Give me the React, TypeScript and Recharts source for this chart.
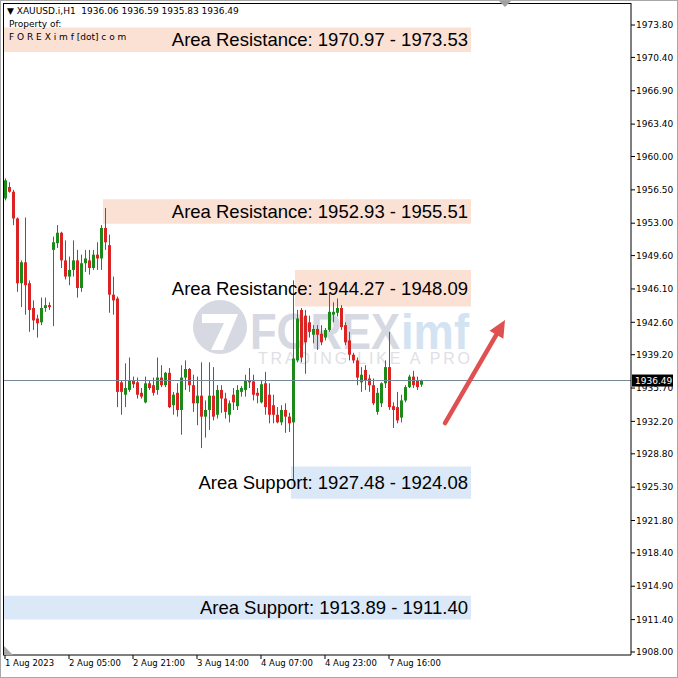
import {
  ComposedChart,
  Bar,
  XAxis,
  YAxis,
  ReferenceArea,
  ReferenceLine,
} from "recharts";

// XAUUSD.i H1 candles (oldest first)
const opens = [
  1955.6, 1956.8, 1956.3, 1953.5, 1946.7, 1948.9, 1946.7, 1944.1, 1943.0, 1942.6,
  1944.1, 1944.4, 1950.2, 1950.9, 1952.0, 1949.1, 1947.4, 1948.1, 1949.1, 1946.2,
  1948.8, 1949.1, 1948.3, 1949.7, 1949.3, 1952.5, 1950.7, 1945.5, 1945.1, 1936.3,
  1935.0, 1935.5, 1936.5, 1936.3, 1935.2, 1934.2, 1936.2, 1936.0, 1935.5, 1936.8,
  1936.0, 1937.3, 1933.9, 1935.2, 1933.4, 1936.8, 1937.7, 1936.0, 1934.1, 1934.9,
  1932.7, 1933.4, 1934.9, 1932.9, 1935.5, 1934.6, 1932.9, 1935.0, 1933.8, 1935.3,
  1935.5, 1936.5, 1936.4, 1935.2, 1934.2, 1936.2, 1935.0, 1933.9, 1932.9, 1932.1,
  1933.4, 1932.7, 1932.1, 1938.6, 1943.9, 1943.3, 1942.6, 1941.3, 1941.9, 1941.4,
  1941.0, 1941.8, 1943.4, 1943.6, 1944.1, 1942.3, 1940.7, 1939.2, 1938.6, 1936.3,
  1937.6, 1936.7, 1936.0, 1933.2, 1934.1, 1936.2, 1937.9, 1933.8, 1933.7, 1932.6,
  1934.4, 1935.8, 1936.9, 1936.5, 1936.06,
];
const highs = [
  1957.7, 1957.3, 1956.5, 1953.6, 1949.1, 1953.6, 1947.0, 1944.9, 1943.4, 1945.2,
  1945.2, 1944.7, 1951.6, 1952.8, 1952.1, 1951.2, 1949.5, 1951.2, 1950.2, 1949.7,
  1950.2, 1950.2, 1950.2, 1951.0, 1952.8, 1954.6, 1951.8, 1947.4, 1945.3, 1936.5,
  1938.3, 1938.9, 1936.9, 1936.8, 1935.7, 1936.9, 1936.5, 1936.8, 1938.9, 1938.1,
  1937.4, 1937.8, 1935.3, 1936.2, 1938.1, 1938.6, 1937.8, 1937.1, 1936.9, 1938.4,
  1934.4, 1938.4, 1937.9, 1936.0, 1936.0, 1935.2, 1934.4, 1935.7, 1936.0, 1935.9,
  1937.1, 1937.8, 1937.1, 1935.7, 1936.5, 1937.4, 1936.2, 1935.0, 1933.7, 1933.9,
  1934.1, 1933.1, 1947.0, 1943.9, 1944.1, 1943.9, 1943.3, 1942.3, 1942.3, 1942.3,
  1942.0, 1945.7, 1944.7, 1945.1, 1944.4, 1942.6, 1941.6, 1939.4, 1938.9, 1937.9,
  1938.1, 1937.1, 1936.7, 1935.7, 1936.3, 1938.6, 1941.6, 1934.2, 1935.3, 1935.0,
  1936.0, 1937.1, 1937.5, 1936.9, 1936.59,
];
const lows = [
  1955.4, 1956.2, 1952.8, 1945.8, 1944.2, 1943.4, 1941.6, 1941.8, 1941.0, 1942.3,
  1943.7, 1943.9, 1942.2, 1950.4, 1948.3, 1947.1, 1946.5, 1947.4, 1945.2, 1945.8,
  1947.9, 1947.6, 1948.1, 1948.1, 1948.1, 1950.2, 1943.6, 1943.4, 1933.7, 1932.9,
  1933.7, 1935.3, 1935.7, 1934.6, 1934.6, 1934.1, 1935.5, 1934.9, 1935.0, 1935.8,
  1935.8, 1933.6, 1932.9, 1932.7, 1930.8, 1935.5, 1935.3, 1933.2, 1931.8, 1929.4,
  1930.5, 1931.3, 1932.3, 1932.5, 1933.1, 1932.5, 1932.1, 1933.4, 1933.4, 1934.8,
  1934.8, 1935.7, 1934.4, 1934.1, 1934.1, 1932.9, 1932.0, 1932.0, 1932.0, 1931.8,
  1931.0, 1931.1, 1926.0, 1938.4, 1938.4, 1937.2, 1941.0, 1940.4, 1939.7, 1940.2,
  1940.7, 1941.6, 1942.6, 1943.2, 1941.8, 1940.2, 1938.6, 1938.3, 1936.0, 1935.3,
  1935.5, 1935.3, 1933.9, 1932.9, 1933.7, 1935.7, 1933.4, 1931.5, 1932.0, 1932.1,
  1934.2, 1935.7, 1935.7, 1935.5, 1935.83,
];
const closes = [
  1957.5, 1956.3, 1953.5, 1946.7, 1948.9, 1946.5, 1943.9, 1942.8, 1942.5, 1944.1,
  1944.4, 1944.2, 1951.0, 1952.0, 1949.1, 1947.4, 1948.1, 1949.1, 1946.2, 1948.8,
  1949.3, 1948.3, 1949.7, 1949.3, 1952.5, 1951.0, 1945.5, 1944.9, 1935.3, 1935.3,
  1935.7, 1936.5, 1936.1, 1935.0, 1934.8, 1936.2, 1935.7, 1935.2, 1936.8, 1936.0,
  1937.3, 1933.7, 1935.0, 1933.4, 1936.8, 1937.7, 1936.0, 1934.1, 1934.9, 1932.7,
  1933.4, 1934.9, 1932.7, 1935.5, 1934.6, 1933.2, 1934.1, 1934.2, 1935.5, 1935.7,
  1936.5, 1936.3, 1935.0, 1934.9, 1936.1, 1933.7, 1932.9, 1932.9, 1932.1, 1933.4,
  1932.7, 1932.0, 1938.8, 1943.0, 1938.9, 1940.5, 1941.6, 1941.9, 1941.3, 1940.5,
  1941.8, 1943.7, 1943.7, 1944.1, 1942.1, 1940.5, 1939.2, 1938.6, 1936.8, 1937.1,
  1936.5, 1936.0, 1934.1, 1935.2, 1936.2, 1937.9, 1933.7, 1933.4, 1932.3, 1934.4,
  1935.8, 1936.9, 1936.0, 1935.8, 1936.49,
];

// MT4 keeps empty space to the right of the last bar
const TOTAL_SLOTS = 157;

const timeTickIdx = [0, 16, 32, 48, 64, 80, 96];
const timeTickLabels = [
  "1 Aug 2023",
  "2 Aug 05:00",
  "2 Aug 21:00",
  "3 Aug 14:00",
  "4 Aug 07:00",
  "4 Aug 23:00",
  "7 Aug 16:00",
];

const priceTicks = [
  1973.8, 1970.4, 1966.9, 1963.4, 1960.0, 1956.5, 1953.0, 1949.6, 1946.1, 1942.6,
  1939.2, 1935.7, 1932.2, 1928.8, 1925.3, 1921.8, 1918.4, 1914.9, 1911.4, 1908.0,
];

// support / resistance zones
const zoneNames = ["Area Resistance", "Area Resistance", "Area Resistance", "Area Support", "Area Support"];
const zoneFirst = [1970.97, 1952.93, 1944.27, 1927.48, 1913.89];
const zoneSecond = [1973.53, 1955.51, 1948.09, 1924.08, 1911.4];
const zoneStartBar: (number | null)[] = [null, 25, 73, 72, null];
const zoneEndBar = 116;

const arrowBars = [110, 125];
const arrowPrices = [1932.03, 1942.84];

const LAST = closes[closes.length - 1];

const UP = "#1b8a1b";
const DOWN = "#dc2323";
const AXIS_FONT = "'DejaVu Sans', Verdana, sans-serif";
const LABEL_FONT = "'Liberation Sans', Arial, sans-serif";

const rows = Array.from({ length: TOTAL_SLOTS }, (_, i) =>
  i < opens.length
    ? { i, o: opens[i], h: highs[i], l: lows[i], c: closes[i], range: [lows[i], highs[i]] }
    : { i }
);

function Candle(props: any) {
  const { x, y, width, height, payload } = props;
  if (!payload || payload.o == null) return null;
  const { o, h, l, c } = payload;
  const k = height / (h - l);
  const yO = y + (h - o) * k;
  const yC = y + (h - c) * k;
  const color = c >= o ? UP : DOWN;
  const cx = Math.round(x + width / 2);
  const top = Math.min(yO, yC);
  const bh = Math.max(1, Math.abs(yO - yC));
  return (
    <g>
      <line x1={cx + 0.5} x2={cx + 0.5} y1={y} y2={y + height} stroke={color} strokeWidth={1} />
      <rect x={cx - 1} y={top} width={3} height={bh} fill={color} />
    </g>
  );
}

function Arrow(props: any) {
  const { x1, y1, x2, y2 } = props;
  const ang = Math.atan2(y2 - y1, x2 - x1);
  const len = 17;
  const half = 8;
  const bx = x2 - len * Math.cos(ang);
  const by = y2 - len * Math.sin(ang);
  const nx = -Math.sin(ang) * half;
  const ny = Math.cos(ang) * half;
  return (
    <g>
      <line x1={x1} y1={y1} x2={bx} y2={by} stroke="#e05050" strokeWidth={4.5} strokeLinecap="round" />
      <polygon points={`${x2},${y2} ${bx + nx},${by + ny} ${bx - nx},${by - ny}`} fill="#e05050" />
    </g>
  );
}

function PriceTag(props: any) {
  const vb = props.viewBox || {};
  const x = vb.x + vb.width + 1;
  const y = vb.y;
  return (
    <g>
      <rect x={x} y={y - 6} width={41} height={12} fill="#000" />
      <text x={x + 3} y={y + 3.5} fill="#fff" fontSize={9} fontFamily={AXIS_FONT}>
        {LAST.toFixed(2)}
      </text>
    </g>
  );
}

function TimeTick(props: any) {
  const { x, y, payload } = props;
  const k = timeTickIdx.indexOf(payload.value);
  return (
    <text x={x} y={y} dy="0.71em" textAnchor="start" fontSize={8.5} fill="#000" fontFamily={AXIS_FONT}>
      {k >= 0 ? timeTickLabels[k] : ""}
    </text>
  );
}

function Watermark() {
  return (
    <svg width={678} height={678} style={{ position: "absolute", left: 0, top: 0 }}>
      <circle cx={220} cy={327} r={27} fill="#d6d9e1" />
      <polygon points="202,314 238,314 223,350 211,350 224,323 202,323" fill="#fff" />
      <text x={250} y={349} fontSize={50} fontWeight="bold" fontFamily={LABEL_FONT} fill="#d6d9e1" textLength={150} lengthAdjust="spacingAndGlyphs">
        FOREX
      </text>
      <text x={401} y={349} fontSize={50} fontWeight="bold" fontFamily={LABEL_FONT} fill="#d3e3f2" textLength={68} lengthAdjust="spacingAndGlyphs">
        imf
      </text>
      <text x={258} y={364} fontSize={16} fontFamily={LABEL_FONT} fill="#dfe0e5" textLength={212} lengthAdjust="spacing">
        TRADING LIKE A PRO
      </text>
    </svg>
  );
}

export default function App() {
  return (
    <div style={{ position: "absolute", left: 0, top: 0, width: 678, height: 678, background: "#fff", overflow: "hidden" }}>
      <Watermark />
      <div style={{ position: "absolute", left: 0, top: 0 }}>
        <ComposedChart width={678} height={678} data={rows} margin={{ top: 3, right: 0, bottom: 0, left: 3 }}>
          <XAxis
            dataKey="i"
            type="category"
            ticks={timeTickIdx}
            interval={0}
            height={23}
            tickSize={4}
            tickMargin={1}
            stroke="#000"
            tick={<TimeTick />}
          />
          <YAxis
            orientation="right"
            width={47}
            domain={[1907.685, 1976.11]}
            allowDataOverflow
            ticks={priceTicks}
            interval={0}
            tickSize={4}
            tickMargin={1}
            stroke="#000"
            tickFormatter={(v: number) => v.toFixed(2)}
            tick={{ fontSize: 9, fill: "#000", fontFamily: AXIS_FONT }}
          />
          {zoneNames.map((name, k) => (
            <ReferenceArea
              key={k}
              x1={zoneStartBar[k] ?? undefined}
              x2={zoneEndBar}
              y1={Math.min(zoneFirst[k], zoneSecond[k])}
              y2={Math.max(zoneFirst[k], zoneSecond[k])}
              fill={name.includes("Support") ? "#dae8f7" : "#fbe0d4"}
              fillOpacity={1}
              stroke="none"
              ifOverflow="visible"
              label={{
                value: `${name}: ${zoneFirst[k].toFixed(2)} - ${zoneSecond[k].toFixed(2)}`,
                position: "insideRight",
                offset: 3,
                fontSize: 18.5,
                fill: "#000",
                fontFamily: LABEL_FONT,
              }}
            />
          ))}
          <ReferenceLine y={LAST} stroke="#758799" strokeWidth={1} label={PriceTag} />
          <Bar dataKey="range" shape={Candle} isAnimationActive={false} />
          <ReferenceLine
            segment={[
              { x: arrowBars[0], y: arrowPrices[0] },
              { x: arrowBars[1], y: arrowPrices[1] },
            ]}
            shape={Arrow}
          />
        </ComposedChart>
      </div>
      {/* chart frame, left and top edges */}
      <div style={{ position: "absolute", left: 3, top: 3, width: 628, height: 652, borderLeft: "1px solid #000", borderTop: "1px solid #000", boxSizing: "border-box", pointerEvents: "none" }} />
      <div style={{ position: "absolute", left: 0, top: 0, width: 678, height: 678, border: "1px solid #a8a8a8", boxSizing: "border-box", pointerEvents: "none" }} />
      <svg width={678} height={678} style={{ position: "absolute", left: 0, top: 0, pointerEvents: "none" }}>
        <polygon points="499,1 511,1 505,7" fill="#a0a0a0" />
        <polygon points="4,646 4,655 13,655" fill="#a8a8a8" />
      </svg>
      <div style={{ position: "absolute", left: 7, top: 6, fontFamily: AXIS_FONT, fontSize: 9, lineHeight: "11px", color: "#000", whiteSpace: "pre" }}>
        {"▼ XAUUSD.i,H1  1936.06 1936.59 1935.83 1936.49"}
      </div>
      <div style={{ position: "absolute", left: 9, top: 19, fontFamily: AXIS_FONT, fontSize: 9, lineHeight: "11px", color: "#000" }}>
        Property of:
      </div>
      <div style={{ position: "absolute", left: 9, top: 32, fontFamily: AXIS_FONT, fontSize: 9, lineHeight: "11px", color: "#000", whiteSpace: "pre" }}>
        {"F O R E X i m f [dot] c o m"}
      </div>
    </div>
  );
}
